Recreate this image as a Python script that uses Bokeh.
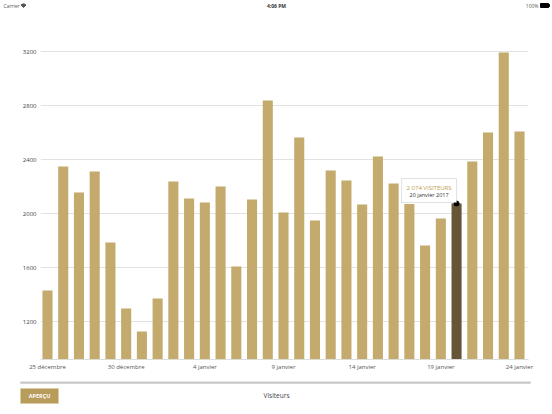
import math
from bokeh.plotting import figure
from bokeh.layouts import column
from bokeh.models import Label, BoxAnnotation, FixedTicker, Range1d
from bokeh.embed import file_html
from bokeh.resources import INLINE
from bokeh.core.properties import value

# ---- data ----
day_index = list(range(31))
visitors = [1430, 2348, 2156, 2311, 1785, 1296, 1126, 1370, 2237, 2111,
            2081, 2200, 1607, 2104, 2837, 2007, 2563, 1948, 2319, 2244,
            2067, 2422, 2222, 2070, 1763, 1963, 2074, 2385, 2600, 3193, 2607]
x_tick_positions = [0, 5, 10, 15, 20, 25, 30]
x_tick_labels = ["25 décembre", "30 décembre", "4 janvier", "9 janvier",
                 "14 janvier", "19 janvier", "24 janvier"]
y_ticks = [1200, 1600, 2000, 2400, 2800, 3200]
highlight_index = 26
highlight_value_text = "2 074 VISITEURS"
highlight_date_text = "20 janvier 2017"
footer_title = "Visiteurs"
button_text = "APERÇU"
status_left = "Carrier"
status_time = "4:06 PM"
status_battery = "100%"

GOLD = "#c4aa6c"
DARK = "#665637"
FONT = "Open Sans"
W = 552


def bare(height):
    f = figure(width=W, height=height, output_backend="svg",
               toolbar_location=None, x_range=Range1d(0, W),
               y_range=Range1d(height, 0), min_border=0)
    f.axis.visible = False
    f.grid.visible = False
    f.outline_line_color = None
    f.background_fill_color = "white"
    f.border_fill_color = "white"
    return f


# ---- status bar ----
SH = 14
s = bare(SH)
s.text(x=[3], y=[5], text=[status_left], text_font=value(FONT),
       text_font_size="5px", text_color="#555555", text_baseline="middle")
s.wedge(x=[23], y=[7], radius=3.5, start_angle=math.pi / 4,
        end_angle=3 * math.pi / 4, color="#555555")
s.text(x=[276], y=[5], text=[status_time], text_font=value(FONT),
       text_font_size="5px", text_font_style="bold", text_color="#333333",
       text_align="center", text_baseline="middle")
s.text(x=[538], y=[5], text=[status_battery], text_font=value(FONT),
       text_font_size="5px", text_color="#555555", text_align="right",
       text_baseline="middle")
s.quad(left=[540], right=[548], top=[3], bottom=[7], color="black")
s.quad(left=[548], right=[549], top=[4], bottom=[6], color="black")

# ---- main chart ----
MH = 362
FL, FR, FT, FB = 40, 24, 26, 17
FW = W - FL - FR
FH = MH - FT - FB
x0, x1 = -0.445, 30.572
y0, y1 = 918.6, 3281.5

p = figure(width=W, height=MH, output_backend="svg", toolbar_location=None,
           x_range=Range1d(x0, x1), y_range=Range1d(y0, y1),
           min_border_left=FL, min_border_right=FR, min_border_top=FT,
           min_border_bottom=FB)
p.outline_line_color = None
p.background_fill_color = "white"
p.border_fill_color = "white"

colors = [DARK if i == highlight_index else GOLD for i in day_index]
p.vbar(x=day_index, top=visitors, bottom=0, width=0.64, fill_color=colors,
       line_color=None)

p.xaxis.ticker = FixedTicker(ticks=x_tick_positions)
p.xaxis.major_label_overrides = {t: l for t, l in zip(x_tick_positions, x_tick_labels)}
p.xaxis.axis_line_color = "#dcdcdc"
p.xaxis.major_tick_line_color = None
p.xaxis.minor_tick_line_color = None
p.xaxis.major_tick_out = 0
p.xaxis.major_tick_in = 0
p.xaxis.minor_tick_out = 0
p.xaxis.major_label_text_font = FONT
p.xaxis.major_label_text_font_size = "6px"
p.xaxis.major_label_text_color = "#555555"
p.xaxis.major_label_standoff = 3

p.yaxis.ticker = FixedTicker(ticks=y_ticks)
p.yaxis.axis_line_color = None
p.yaxis.major_tick_line_color = None
p.yaxis.minor_tick_line_color = None
p.yaxis.major_tick_out = 0
p.yaxis.major_tick_in = 0
p.yaxis.minor_tick_out = 0
p.yaxis.major_label_text_font = FONT
p.yaxis.major_label_text_font_size = "6px"
p.yaxis.major_label_text_color = "#444444"
p.yaxis.major_label_standoff = 4

p.xgrid.grid_line_color = None
p.ygrid.grid_line_color = "#e2e2e2"
p.ygrid.grid_line_width = 1

# tooltip
px_x = (x1 - x0) / FW
px_y = (y1 - y0) / FH
hv = visitors[highlight_index]
tip = BoxAnnotation(left=highlight_index - 55 * px_x, right=highlight_index,
                    bottom=hv + 1 * px_y, top=hv + 25 * px_y,
                    fill_color="white", fill_alpha=1.0,
                    line_color="#9a9a9a", line_width=1, level="overlay")
p.add_layout(tip)
p.add_layout(Label(x=highlight_index, y=hv, x_offset=-27.5, y_offset=16,
                   text=highlight_value_text, text_align="center",
                   text_baseline="middle", text_font=FONT,
                   text_font_size="6px", text_color="#c09a50",
                   level="overlay"))
p.add_layout(Label(x=highlight_index, y=hv, x_offset=-27.5, y_offset=8.5,
                   text=highlight_date_text, text_align="center",
                   text_baseline="middle", text_font=FONT,
                   text_font_size="5.5px", text_color="#333333",
                   level="overlay"))
p.scatter(x=[highlight_index], y=[hv], size=5, color="black", level="overlay")

# ---- footer ----
BH = 414 - SH - MH
b = bare(BH)
b.quad(left=[20], right=[530], top=[5.5], bottom=[6.7], color="#c8c8c8")
b.quad(left=[20], right=[58], top=[12], bottom=[27], fill_color="#b89c5c",
       line_color="#d8c89c", line_width=0.5)
b.text(x=[39], y=[19.5], text=[button_text], text_font=value(FONT),
       text_font_size="5.5px", text_font_style="bold", text_color="white",
       text_align="center", text_baseline="middle")
b.text(x=[276], y=[19], text=[footer_title], text_font=value(FONT),
       text_font_size="6.5px", text_color="#444444", text_align="center",
       text_baseline="middle")

layout = column(column(s), column(p), column(b), spacing=0)
open("out.html", "w").write(file_html(layout, INLINE))
